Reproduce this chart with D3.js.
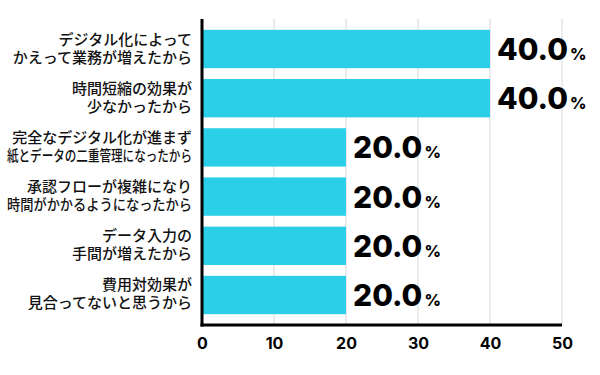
<!DOCTYPE html>
<html><head><meta charset="utf-8">
<script src="https://cdn.jsdelivr.net/npm/d3@7"></script>
<style>body{margin:0;background:#fff}</style>
</head><body>
<svg id="c" width="600" height="375"></svg>
<script>
const categories = [
  ["デジタル化によって","かえって業務が増えたから"],
  ["時間短縮の効果が","少なかったから"],
  ["完全なデジタル化が進まず","紙とデータの二重管理になったから"],
  ["承認フローが複雑になり","時間がかかるようになったから"],
  ["データ入力の","手間が増えたから"],
  ["費用対効果が","見合ってないと思うから"]
];
const values = [40.0, 40.0, 20.0, 20.0, 20.0, 20.0];
const ticks = [0, 10, 20, 30, 40, 50];

(function(){
const svg = d3.select("#c");
const mLeft = 202, mRight = 562, mTop = 19, mBottom = 325;
const labelRight = 192, labelMaxW = 185;
const x = d3.scaleLinear().domain([0, 50]).range([mLeft, mRight]);
const y = d3.scaleBand().domain(d3.range(values.length)).range([mTop, mBottom]).paddingInner(0.22).paddingOuter(0.22);

// gridlines
svg.append("g").selectAll("line").data(ticks.slice(1)).join("line")
  .attr("x1", d => x(d)).attr("x2", d => x(d))
  .attr("y1", mTop).attr("y2", mBottom)
  .attr("stroke", "#d9d9d9").attr("stroke-width", 1);

// bars
svg.append("g").selectAll("rect").data(values).join("rect")
  .attr("x", x(0)).attr("y", (d, i) => y(i))
  .attr("width", d => x(d) - x(0)).attr("height", y.bandwidth())
  .attr("fill", "#2bd0e8");

// axes lines
svg.append("line").attr("x1", mLeft).attr("x2", mLeft).attr("y1", mTop).attr("y2", mBottom + 1.5)
  .attr("stroke", "#000").attr("stroke-width", 3);
svg.append("line").attr("x1", mLeft - 1.5).attr("x2", mRight).attr("y1", mBottom).attr("y2", mBottom)
  .attr("stroke", "#000").attr("stroke-width", 3);

// x tick labels
const xAxis = d3.axisBottom(x).tickValues(ticks).tickSize(0).tickPadding(0);
const gx = svg.append("g").attr("transform", `translate(0,${mBottom + 24})`).call(xAxis);
gx.select(".domain").remove();
gx.selectAll("text").attr("font-family", "Inter, sans-serif").attr("font-weight", 700)
  .attr("font-size", 16).attr("fill", "#000").attr("dy", "0");

// category labels (one text per line)
categories.forEach((lines, i) => {
  const c = y(i) + y.bandwidth() / 2;
  lines.forEach((t, j) => {
    const el = svg.append("text")
      .attr("text-anchor", "end")
      .attr("x", labelRight).attr("y", c + (j === 0 ? -4.5 : 13.5))
      .attr("font-family", "'Noto Sans CJK JP', sans-serif").attr("font-weight", 500)
      .attr("font-size", 15).attr("fill", "#111")
      .text(t);
    const w = el.node().getComputedTextLength();
    if (w > labelMaxW) {
      el.attr("textLength", labelMaxW).attr("lengthAdjust", "spacingAndGlyphs");
    }
  });
});

// value labels
const vl = svg.append("g").selectAll("text").data(values).join("text")
  .attr("x", d => x(d) + 7).attr("y", (d, i) => y(i) + y.bandwidth() / 2 + 11)
  .attr("font-family", "Inter, sans-serif").attr("font-weight", 800).attr("fill", "#000");
vl.append("tspan").attr("font-size", 30).text(d => d.toFixed(1));
vl.append("tspan").attr("font-size", 16).attr("dx", 2).text("%");
})();
</script>
</body></html>
